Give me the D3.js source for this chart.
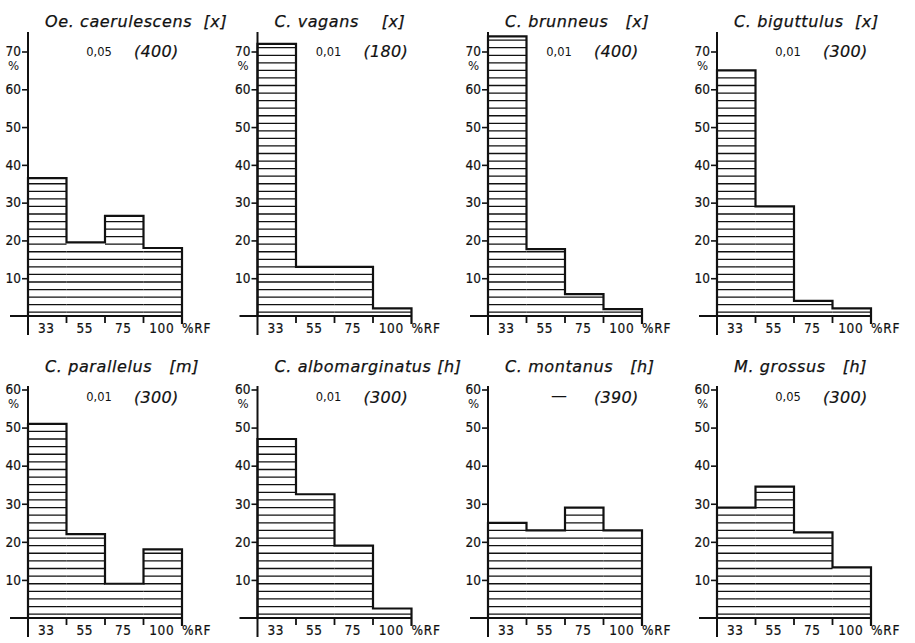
<!DOCTYPE html>
<html>
<head>
<meta charset="utf-8">
<script src="https://cdn.jsdelivr.net/npm/d3@7"></script>
<style>
  html, body { margin: 0; padding: 0; background: #fff; }
  svg { display: block; }
  text { fill: #111; font-family: "DejaVu Sans", sans-serif; }
  .cond { font-family: "DejaVu Sans Condensed", "DejaVu Sans", sans-serif; }
</style>
</head>
<body>
<svg id="chart" width="915" height="643"></svg>
<script>
// ---- data ----
const rfClasses = ["33", "55", "75", "100"];
const species = ["Oe. caerulescens  [x]", "C. vagans    [x]", "C. brunneus   [x]", "C. biguttulus  [x]",
                 "C. parallelus   [m]", "C. albomarginatus [h]", "C. montanus   [h]", "M. grossus   [h]"];
const significance = ["0,05", "0,01", "0,01", "0,01", "0,01", "0,01", "—", "0,05"];
const sampleSizes = ["(400)", "(180)", "(400)", "(300)", "(300)", "(300)", "(390)", "(300)"];
const caerulescens = [36.5, 19.5, 26.5, 18];
const vagans = [72, 13, 13, 2];
const brunneus = [74, 17.7, 5.8, 1.8];
const biguttulus = [65, 29, 4, 2];
const parallelus = [51, 22, 9, 18];
const albomarginatus = [47, 32.5, 19, 2.5];
const montanus = [25, 23, 29, 23];
const grossus = [29, 34.5, 22.5, 13.3];
const seriesValues = [caerulescens, vagans, brunneus, biguttulus, parallelus, albomarginatus, montanus, grossus];
const yTicksTop = [10, 20, 30, 40, 50, 60, 70];
const yTicksBottom = [10, 20, 30, 40, 50, 60];

// ---- layout ----
const svg = d3.select("#chart");
const colX = [28, 257.5, 488, 717];
const rows = [
  { base: 316, top: 51.5, max: 70, ticks: yTicksTop, axisTop: 32, titleY: 27, annY: 56, annY2: 57 },
  { base: 618, top: 389.5, max: 60, ticks: yTicksBottom, axisTop: 386, titleY: 372, annY: 401, annY2: 403 }
];
const binW = 38.5;
const ink = "#111";

seriesValues.forEach((vals, i) => {
  const r = rows[Math.floor(i / 4)];
  const ax = colX[i % 4];
  const g = svg.append("g");

  const x = d3.scaleBand().domain(rfClasses).range([ax, ax + binW * 4]).paddingInner(0).paddingOuter(0);
  const y = d3.scaleLinear().domain([0, r.max]).range([r.base, r.top]);

  // hatch lines (every 2 %, at odd values)
  vals.forEach((v, k) => {
    const hs = d3.range(1, v - 0.6, 2);
    g.selectAll(null).data(hs).enter().append("line")
      .attr("x1", x(rfClasses[k])).attr("x2", x(rfClasses[k]) + x.bandwidth())
      .attr("y1", d => y(d)).attr("y2", d => y(d))
      .attr("stroke", ink).attr("stroke-width", 1.3);
  });

  // step outline
  const pts = [[x(rfClasses[0]), y(0)]];
  vals.forEach((v, k) => {
    pts.push([x(rfClasses[k]), y(v)]);
    pts.push([x(rfClasses[k]) + x.bandwidth(), y(v)]);
  });
  const last = x(rfClasses[3]) + x.bandwidth();
  pts.push([last, y(0) + 8]);
  g.append("path").attr("d", d3.line()(pts)).attr("fill", "none")
    .attr("stroke", ink).attr("stroke-width", 2.2).attr("stroke-linejoin", "miter");

  // baseline
  g.append("line").attr("x1", ax - 18).attr("x2", last).attr("y1", y(0)).attr("y2", y(0))
    .attr("stroke", ink).attr("stroke-width", 2);

  // bin edge ticks below baseline
  g.selectAll(null).data(rfClasses.slice(1)).enter().append("line")
    .attr("x1", d => x(d)).attr("x2", d => x(d))
    .attr("y1", y(0)).attr("y2", y(0) + 7)
    .attr("stroke", ink).attr("stroke-width", 1.8);

  // y axis
  const yAxis = d3.axisLeft(y).tickValues(r.ticks).tickSize(6).tickPadding(1).tickFormat(d3.format("d"));
  const ya = g.append("g").attr("transform", `translate(${ax},0)`).call(yAxis);
  ya.select(".domain").remove();
  ya.selectAll(".tick line").attr("stroke", ink).attr("stroke-width", 1.6);
  ya.selectAll(".tick text").attr("class", "cond").attr("font-size", 13.5).attr("font-family", null)
    .attr("fill", ink).attr("stroke", ink).attr("stroke-width", 0.2);
  g.append("line").attr("x1", ax).attr("x2", ax).attr("y1", r.axisTop).attr("y2", y(0) + 19)
    .attr("stroke", ink).attr("stroke-width", 2);
  g.append("text").attr("class", "cond").attr("x", ax - 9).attr("y", y(r.max) + 18).attr("text-anchor", "end")
    .attr("font-size", 13).text("%");

  // x labels
  g.selectAll(null).data(rfClasses).enter().append("text").attr("class", "cond")
    .attr("x", d => x(d) + x.bandwidth() / 2 - 1).attr("y", y(0) + 16.5)
    .attr("text-anchor", "middle").attr("font-size", 13.5).attr("letter-spacing", 0.6)
    .attr("stroke", ink).attr("stroke-width", 0.2).text(d => d);
  g.append("text").attr("class", "cond").attr("x", last).attr("y", y(0) + 16.5).attr("font-size", 13.5)
    .attr("letter-spacing", 0.8).attr("stroke", ink).attr("stroke-width", 0.2).text("%RF");

  // title
  g.append("text").attr("x", ax + 17).attr("y", r.titleY).attr("font-size", 16)
    .attr("font-style", "italic").attr("letter-spacing", 0.6).attr("stroke", ink).attr("stroke-width", 0.25)
    .style("white-space", "pre").text(species[i]);

  // annotations
  g.append("text").attr("x", ax + 71).attr("y", r.annY).attr("text-anchor", "middle")
    .attr("font-size", significance[i] === "—" ? 16 : 11.5).text(significance[i]);
  g.append("text").attr("x", ax + 106).attr("y", r.annY2).attr("font-size", 16)
    .attr("font-style", "italic").attr("letter-spacing", 0.3).attr("stroke", ink).attr("stroke-width", 0.2)
    .text(sampleSizes[i]);
});
</script>
</body>
</html>
